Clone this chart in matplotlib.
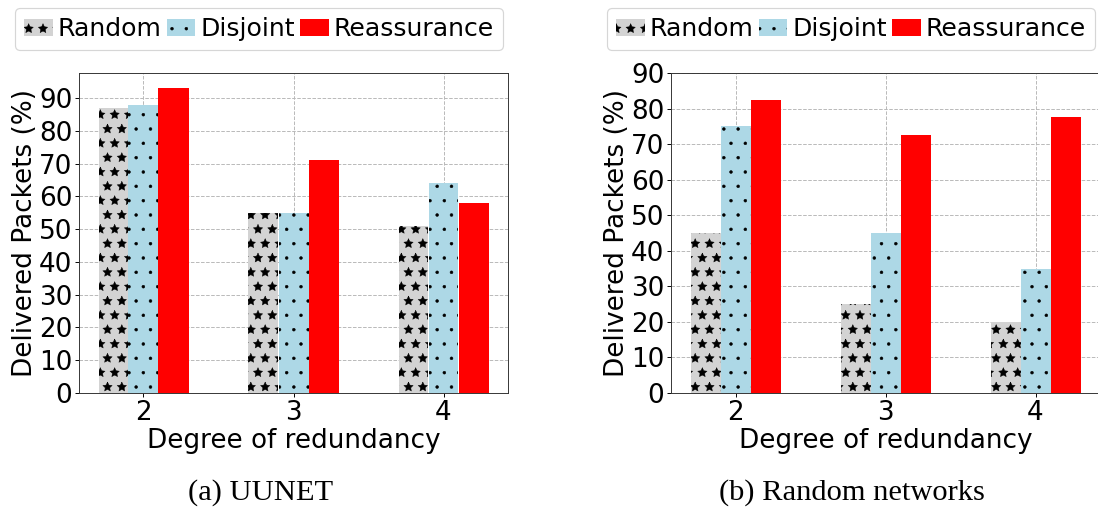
import numpy as np
import matplotlib
matplotlib.use("Agg")
import matplotlib.pyplot as plt

degrees = [2, 3, 4]
series = ["Random", "Disjoint", "Reassurance"]

# (a) UUNET
uunet_random = [87, 55, 51]
uunet_disjoint = [88, 55, 64]
uunet_reassurance = [93, 71, 58]

# (b) Random networks
rand_random = [45, 25, 20]
rand_disjoint = [75, 45, 35]
rand_reassurance = [82.4, 72.5, 77.6]

captions = ["(a) UUNET", "(b) Random networks"]

plt.rcParams["hatch.linewidth"] = 0.4

DPI = 86
fig = plt.figure(figsize=(1098 / DPI, 513 / DPI), dpi=DPI)
fs = 22

colors = ["lightgray", "lightblue", "red"]
hatches = ["*", ".", None]
width = 0.2

def draw(ax, vals, ylim=None):
    x = np.array(degrees)
    for i, (name, v) in enumerate(zip(series, vals)):
        ax.bar(x + (i - 1) * width, v, width, color=colors[i],
               hatch=hatches[i], label=name, linewidth=0)
    ax.set_xticks(degrees)
    if ylim is not None:
        ax.set_ylim(*ylim)
    ax.set_yticks(range(0, 91, 10))
    ax.tick_params(labelsize=fs, pad=2)
    ax.set_xlabel("Degree of redundancy", fontsize=fs, labelpad=2)
    ax.set_ylabel("Delivered Packets (%)", fontsize=fs, labelpad=1)
    ax.grid(True, linestyle="--", color="#b8b8b8", linewidth=0.8)
    ax.set_axisbelow(True)
    for s in ax.spines.values():
        s.set_color("#333333")
    ax.legend(loc="lower left", bbox_to_anchor=(-0.149, 1.072), ncol=3,
              fontsize=21, borderaxespad=0, handlelength=1.15,
              handletextpad=0.2, columnspacing=0.2, borderpad=0.35,
              edgecolor="#cccccc")

w = 429 / 1098
h = 320 / 513
ax1 = fig.add_axes([79 / 1098, 1 - 393 / 513, w, h])
draw(ax1, [uunet_random, uunet_disjoint, uunet_reassurance])

ax2 = fig.add_axes([671 / 1098, 1 - 393 / 513, w, h])
draw(ax2, [rand_random, rand_disjoint, rand_reassurance], ylim=(0, 90))

fig.text(261 / 1098, 1 - 493 / 513, captions[0], ha="center", va="center",
         fontsize=25.5, family="Liberation Serif")
fig.text(852 / 1098, 1 - 493 / 513, captions[1], ha="center", va="center",
         fontsize=25.5, family="Liberation Serif")

fig.savefig("out.png", dpi=DPI)
